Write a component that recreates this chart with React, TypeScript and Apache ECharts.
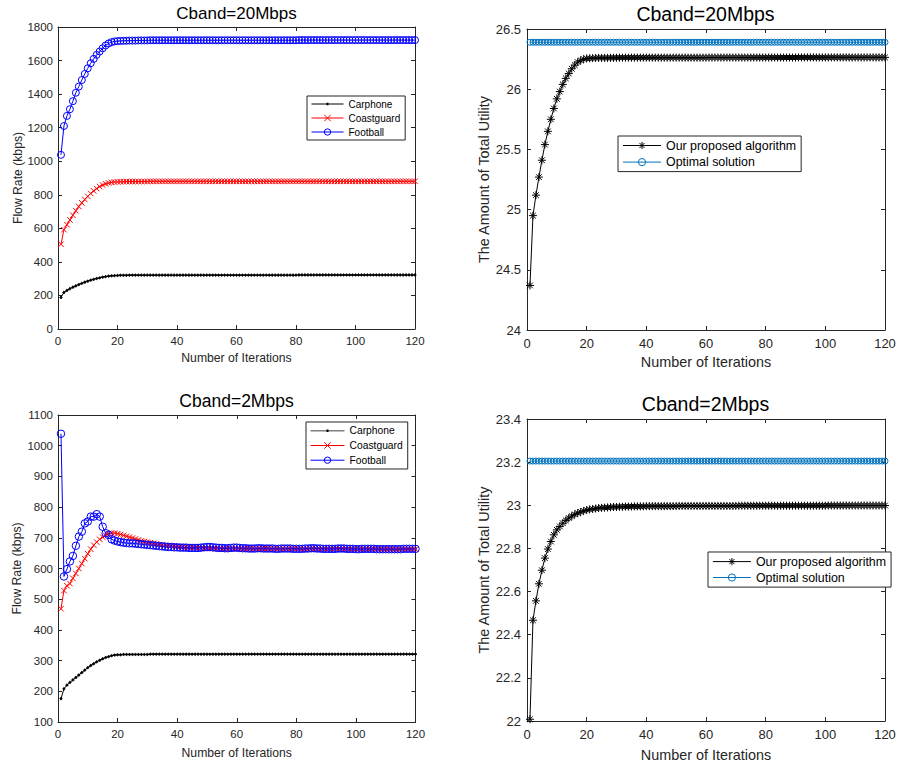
import React, { useEffect, useRef } from "react";
import * as echarts from "echarts";

// ---------- data (iterations 1..120) ----------
const xTicks = [0, 20, 40, 60, 80, 100, 120];
const seriesNamesRate = ["Carphone", "Coastguard", "Football"];
const seriesNamesUtil = ["Our proposed algorithm", "Optimal solution"];
const panelTitles = ["Cband=20Mbps", "Cband=20Mbps", "Cband=2Mbps", "Cband=2Mbps"];

const c20Carphone = [
  188, 218, 230, 240, 249, 257, 265, 272, 279, 285,
  291, 296, 301, 305, 309, 312, 315, 317, 318, 319,
  320, 320, 320, 321, 321, 321, 321, 321, 321, 321,
  321, 321, 321, 321, 321, 321, 321, 321, 321, 321,
  321, 321, 321, 321, 321, 321, 321, 321, 321, 321,
  321, 321, 321, 321, 321, 321, 321, 321, 321, 321,
  321, 321, 321, 321, 321, 321, 321, 321, 321, 321,
  321, 321, 321, 321, 321, 321, 321, 321, 321, 321,
  322, 322, 322, 322, 322, 322, 322, 322, 322, 322,
  322, 322, 322, 322, 322, 322, 322, 322, 322, 322,
  322, 322, 322, 322, 322, 322, 322, 322, 322, 322,
  322, 322, 322, 322, 322, 322, 322, 322, 322, 322,
];
const c20Coastguard = [
  505, 592, 622, 650, 678, 705, 730, 752, 772, 791,
  808, 823, 837, 849, 858, 865, 870, 874, 876, 877,
  878, 878, 879, 879, 879, 879, 879, 879, 879, 879,
  880, 880, 880, 880, 880, 880, 880, 880, 880, 880,
  880, 880, 880, 880, 880, 880, 880, 880, 880, 880,
  880, 880, 880, 880, 880, 880, 880, 880, 880, 880,
  880, 880, 880, 880, 880, 880, 880, 880, 880, 880,
  880, 880, 880, 880, 880, 880, 880, 880, 880, 880,
  880, 880, 880, 880, 880, 880, 880, 880, 880, 880,
  880, 880, 880, 880, 880, 880, 880, 880, 880, 880,
  880, 880, 880, 880, 880, 880, 880, 880, 880, 880,
  880, 880, 880, 880, 880, 880, 880, 880, 880, 880,
];
const c20Football = [
  1038, 1210, 1270, 1310, 1358, 1408, 1445, 1484, 1520, 1554,
  1584, 1610, 1634, 1654, 1673, 1690, 1702, 1710, 1714, 1716,
  1717, 1718, 1718, 1719, 1719, 1719, 1720, 1720, 1720, 1720,
  1721, 1721, 1721, 1721, 1721, 1721, 1721, 1721, 1721, 1721,
  1721, 1721, 1721, 1721, 1721, 1721, 1721, 1721, 1721, 1721,
  1721, 1721, 1721, 1721, 1721, 1721, 1721, 1721, 1721, 1721,
  1721, 1721, 1721, 1721, 1721, 1721, 1721, 1721, 1721, 1721,
  1721, 1721, 1721, 1721, 1721, 1721, 1721, 1721, 1721, 1721,
  1722, 1722, 1722, 1722, 1722, 1722, 1722, 1722, 1722, 1722,
  1722, 1722, 1722, 1722, 1722, 1722, 1722, 1722, 1722, 1722,
  1722, 1722, 1722, 1722, 1722, 1722, 1722, 1722, 1722, 1722,
  1722, 1722, 1722, 1722, 1722, 1722, 1722, 1722, 1722, 1722,
];
const u20Proposed = [
  24.37, 24.95, 25.12, 25.27, 25.41, 25.54, 25.65, 25.75, 25.84, 25.92,
  25.98, 26.04, 26.09, 26.13, 26.17, 26.2, 26.225, 26.24, 26.25, 26.255,
  26.257, 26.258, 26.259, 26.26, 26.26, 26.26, 26.26, 26.261, 26.261, 26.261,
  26.262, 26.262, 26.262, 26.262, 26.262, 26.262, 26.262, 26.262, 26.262, 26.262,
  26.262, 26.262, 26.262, 26.262, 26.262, 26.262, 26.262, 26.262, 26.262, 26.262,
  26.262, 26.262, 26.262, 26.262, 26.262, 26.262, 26.262, 26.262, 26.262, 26.262,
  26.263, 26.263, 26.263, 26.263, 26.263, 26.263, 26.263, 26.263, 26.263, 26.263,
  26.263, 26.263, 26.263, 26.263, 26.263, 26.263, 26.263, 26.263, 26.263, 26.263,
  26.263, 26.263, 26.263, 26.263, 26.263, 26.263, 26.263, 26.263, 26.263, 26.263,
  26.264, 26.264, 26.264, 26.264, 26.264, 26.264, 26.264, 26.264, 26.264, 26.264,
  26.264, 26.264, 26.264, 26.264, 26.264, 26.264, 26.264, 26.264, 26.264, 26.264,
  26.264, 26.264, 26.264, 26.264, 26.264, 26.264, 26.264, 26.264, 26.264, 26.264,
];
const u20Optimal = [
  26.39, 26.39, 26.39, 26.39, 26.39, 26.39, 26.39, 26.39, 26.39, 26.39,
  26.39, 26.39, 26.39, 26.39, 26.39, 26.39, 26.39, 26.39, 26.39, 26.39,
  26.39, 26.39, 26.39, 26.39, 26.39, 26.39, 26.39, 26.39, 26.39, 26.39,
  26.39, 26.39, 26.39, 26.39, 26.39, 26.39, 26.39, 26.39, 26.39, 26.39,
  26.39, 26.39, 26.39, 26.39, 26.39, 26.39, 26.39, 26.39, 26.39, 26.39,
  26.39, 26.39, 26.39, 26.39, 26.39, 26.39, 26.39, 26.39, 26.39, 26.39,
  26.39, 26.39, 26.39, 26.39, 26.39, 26.39, 26.39, 26.39, 26.39, 26.39,
  26.39, 26.39, 26.39, 26.39, 26.39, 26.39, 26.39, 26.39, 26.39, 26.39,
  26.39, 26.39, 26.39, 26.39, 26.39, 26.39, 26.39, 26.39, 26.39, 26.39,
  26.39, 26.39, 26.39, 26.39, 26.39, 26.39, 26.39, 26.39, 26.39, 26.39,
  26.39, 26.39, 26.39, 26.39, 26.39, 26.39, 26.39, 26.39, 26.39, 26.39,
  26.39, 26.39, 26.39, 26.39, 26.39, 26.39, 26.39, 26.39, 26.39, 26.39,
];
const c2Carphone = [
  176, 208, 220, 229, 237, 245, 253, 261, 269, 277,
  284, 290, 296, 301, 306, 310, 313, 316, 318, 319,
  319, 320, 320, 320, 320, 320, 320, 320, 320, 320,
  321, 321, 321, 321, 321, 321, 321, 321, 321, 321,
  321, 321, 321, 321, 321, 321, 321, 321, 321, 321,
  321, 321, 321, 321, 321, 321, 321, 321, 321, 321,
  321, 321, 321, 321, 321, 321, 321, 321, 321, 321,
  321, 321, 321, 321, 321, 321, 321, 321, 321, 321,
  321, 321, 321, 321, 321, 321, 321, 321, 321, 321,
  321, 321, 321, 321, 321, 321, 321, 321, 321, 321,
  321, 321, 321, 321, 321, 321, 321, 321, 321, 321,
  321, 321, 321, 321, 321, 321, 321, 321, 321, 321,
];
const c2Coastguard = [
  469, 528, 544, 551, 568, 584, 600, 616, 632, 648,
  663, 676, 686, 695, 702, 708, 713, 716, 715, 713,
  711, 708, 705, 702, 699, 696, 693, 690, 688, 686,
  684, 682, 680, 678, 677, 676, 675, 674, 673, 672,
  671, 670, 669, 669, 668, 668, 667, 667, 666, 666,
  665, 665, 665, 664, 664, 665, 665, 664, 664, 664,
  664, 664, 665, 665, 664, 664, 664, 664, 665, 665,
  664, 664, 664, 664, 663, 663, 664, 664, 664, 664,
  664, 663, 663, 663, 664, 664, 663, 663, 663, 663,
  663, 663, 664, 664, 663, 663, 663, 663, 663, 663,
  663, 663, 663, 663, 663, 664, 663, 663, 663, 663,
  663, 663, 663, 663, 663, 663, 663, 663, 663, 663,
];
const c2Football = [
  1039, 574, 598, 623, 641, 674, 704, 720, 747, 753,
  769, 769, 777, 769, 736, 715, 709, 695, 691, 688,
  686, 684, 683, 682, 682, 681, 680, 679, 678, 677,
  676, 675, 674, 673, 672, 671, 670, 670, 669, 669,
  668, 668, 668, 667, 667, 667, 667, 668, 669, 670,
  670, 669, 668, 667, 667, 666, 666, 667, 668, 668,
  667, 666, 666, 665, 665, 665, 666, 666, 665, 665,
  665, 665, 664, 664, 665, 665, 665, 665, 664, 664,
  664, 664, 665, 665, 666, 666, 665, 665, 664, 664,
  664, 664, 664, 665, 665, 665, 664, 664, 664, 663,
  663, 664, 664, 664, 664, 664, 663, 663, 663, 663,
  663, 663, 663, 663, 663, 664, 664, 664, 664, 664,
];
const u2Proposed = [
  22.008, 22.467, 22.557, 22.636, 22.699, 22.755, 22.797, 22.832, 22.863, 22.886,
  22.902, 22.917, 22.93, 22.941, 22.95, 22.958, 22.964, 22.969, 22.974, 22.978,
  22.981, 22.983, 22.985, 22.987, 22.988, 22.989, 22.99, 22.991, 22.992, 22.992,
  22.993, 22.993, 22.994, 22.994, 22.994, 22.995, 22.995, 22.995, 22.995, 22.996,
  22.996, 22.996, 22.996, 22.996, 22.996, 22.996, 22.996, 22.996, 22.996, 22.996,
  22.997, 22.997, 22.997, 22.997, 22.997, 22.997, 22.997, 22.997, 22.997, 22.997,
  22.997, 22.997, 22.997, 22.997, 22.997, 22.997, 22.997, 22.997, 22.997, 22.997,
  22.998, 22.998, 22.998, 22.998, 22.998, 22.998, 22.998, 22.998, 22.998, 22.998,
  22.998, 22.998, 22.998, 22.998, 22.998, 22.998, 22.998, 22.998, 22.998, 22.998,
  22.998, 22.998, 22.998, 22.998, 22.998, 22.998, 22.998, 22.998, 22.998, 22.998,
  22.999, 22.999, 22.999, 22.999, 22.999, 22.999, 22.999, 22.999, 22.999, 22.999,
  22.999, 22.999, 22.999, 22.999, 22.999, 22.999, 22.999, 22.999, 22.999, 22.999,
];
const u2Optimal = [
  23.205, 23.205, 23.205, 23.205, 23.205, 23.205, 23.205, 23.205, 23.205, 23.205,
  23.205, 23.205, 23.205, 23.205, 23.205, 23.205, 23.205, 23.205, 23.205, 23.205,
  23.205, 23.205, 23.205, 23.205, 23.205, 23.205, 23.205, 23.205, 23.205, 23.205,
  23.205, 23.205, 23.205, 23.205, 23.205, 23.205, 23.205, 23.205, 23.205, 23.205,
  23.205, 23.205, 23.205, 23.205, 23.205, 23.205, 23.205, 23.205, 23.205, 23.205,
  23.205, 23.205, 23.205, 23.205, 23.205, 23.205, 23.205, 23.205, 23.205, 23.205,
  23.205, 23.205, 23.205, 23.205, 23.205, 23.205, 23.205, 23.205, 23.205, 23.205,
  23.205, 23.205, 23.205, 23.205, 23.205, 23.205, 23.205, 23.205, 23.205, 23.205,
  23.205, 23.205, 23.205, 23.205, 23.205, 23.205, 23.205, 23.205, 23.205, 23.205,
  23.205, 23.205, 23.205, 23.205, 23.205, 23.205, 23.205, 23.205, 23.205, 23.205,
  23.205, 23.205, 23.205, 23.205, 23.205, 23.205, 23.205, 23.205, 23.205, 23.205,
  23.205, 23.205, 23.205, 23.205, 23.205, 23.205, 23.205, 23.205, 23.205, 23.205,
];

// ---------- styling ----------
const FONT = "'Liberation Sans', Arial, Helvetica, sans-serif";
const AX = "#262626";
const CIRCLE = "path://M0,5A5,5,0,1,1,10,5A5,5,0,1,1,0,5Z";
const CROSS = "path://M0,0L10,10M10,0L0,10";
const STAR = "path://M5,0L5,10M0,5L10,5M1.46,1.46L8.54,8.54M8.54,1.46L1.46,8.54";
const dotIcon = (w: number) =>
  `path://M0,4.6L${w},4.6L${w},5.4L0,5.4Z M${w / 2 - 1},3.8L${w / 2 + 1},3.8L${w / 2 + 1},6.2L${w / 2 - 1},6.2Z`;

const pairs = (vals: number[]) => vals.map((v, i) => [i + 1, v]);
const fmt = (v: number) => String(+Number(v).toFixed(3));

type Panel = {
  grid: { left: number; top: number; width: number; height: number };
  yMin: number; yMax: number; yInterval: number; yName: string;
  tick: number; nameSize: number; xLabelMargin: number; xNameGap: number; yNameGap: number; yLabelMargin: number;
};

const panels: Panel[] = [
  { grid: { left: 58, top: 27, width: 357, height: 302 }, yMin: 0, yMax: 1800, yInterval: 200, yName: "Flow Rate (kbps)",
    tick: 11.5, nameSize: 12.2, xLabelMargin: 6, xNameGap: 23, yNameGap: 34, yLabelMargin: 5 },
  { grid: { left: 527, top: 29, width: 358, height: 301 }, yMin: 24, yMax: 26.5, yInterval: 0.5, yName: "The Amount of Total Utility",
    tick: 13, nameSize: 14.4, xLabelMargin: 7, xNameGap: 25, yNameGap: 36, yLabelMargin: 6 },
  { grid: { left: 58, top: 415, width: 357.5, height: 307 }, yMin: 100, yMax: 1100, yInterval: 100, yName: "Flow Rate (kbps)",
    tick: 11.5, nameSize: 12.2, xLabelMargin: 6, xNameGap: 24.5, yNameGap: 35, yLabelMargin: 5 },
  { grid: { left: 527, top: 419, width: 358, height: 302 }, yMin: 22, yMax: 23.4, yInterval: 0.2, yName: "The Amount of Total Utility",
    tick: 13, nameSize: 14.4, xLabelMargin: 7, xNameGap: 27, yNameGap: 36, yLabelMargin: 6 },
];

function buildOption() {
  const grid: any[] = [];
  const xAxis: any[] = [];
  const yAxis: any[] = [];
  panels.forEach((p, gi) => {
    grid.push({ ...p.grid, containLabel: false, show: false });
    const common = {
      type: "value", gridIndex: gi, splitLine: { show: false },
      axisLine: { show: true, onZero: false, lineStyle: { color: AX, width: 1 } },
      axisTick: { show: true, inside: true, length: 4, lineStyle: { color: AX, width: 1 } },
    };
    xAxis.push({
      ...common, position: "bottom", min: xTicks[0], max: xTicks[xTicks.length - 1], interval: 20,
      axisLabel: { show: true, color: AX, fontSize: p.tick, fontFamily: FONT, margin: p.xLabelMargin, formatter: fmt },
      name: "Number of Iterations", nameLocation: "middle", nameGap: p.xNameGap,
      nameTextStyle: { color: AX, fontSize: p.nameSize, fontFamily: FONT },
    });
    xAxis.push({ ...common, position: "top", min: 0, max: 120, interval: 20, axisLabel: { show: false } });
    yAxis.push({
      ...common, position: "left", min: p.yMin, max: p.yMax, interval: p.yInterval,
      axisLabel: { show: true, color: AX, fontSize: p.tick, fontFamily: FONT, margin: p.yLabelMargin, formatter: fmt },
      name: p.yName, nameLocation: "middle", nameGap: p.yNameGap,
      nameTextStyle: { color: AX, fontSize: p.nameSize, fontFamily: FONT },
    });
    yAxis.push({ ...common, position: "right", min: p.yMin, max: p.yMax, interval: p.yInterval, axisLabel: { show: false } });
  });

  const line = (name: string, gi: number, data: number[], color: string, symbol: string, size: number, fill: string) => ({
    type: "line", name, xAxisIndex: gi * 2, yAxisIndex: gi * 2, data: pairs(data),
    symbol, symbolSize: size, showSymbol: true, showAllSymbol: true, silent: true,
    lineStyle: { color, width: 1 },
    itemStyle: { color: fill, borderColor: color, borderWidth: 1 },
    emphasis: { disabled: true },
  });

  const series = [
    line("Carphone", 0, c20Carphone, "#000000", "circle", 2.2, "#000000"),
    line("Coastguard", 0, c20Coastguard, "#ff0000", CROSS, 5.5, "#ff0000"),
    line("Football", 0, c20Football, "#0000ff", CIRCLE, 7, "rgba(0,0,0,0)"),
    line("Our proposed algorithm", 1, u20Proposed, "#000000", STAR, 8, "#000000"),
    line("Optimal solution", 1, u20Optimal, "#0072bd", CIRCLE, 6, "rgba(0,0,0,0)"),
    line("Carphone", 2, c2Carphone, "#000000", "circle", 2.2, "#000000"),
    line("Coastguard", 2, c2Coastguard, "#ff0000", CROSS, 5.5, "#ff0000"),
    line("Football", 2, c2Football, "#0000ff", CIRCLE, 7.5, "rgba(0,0,0,0)"),
    line("Our proposed algorithm", 3, u2Proposed, "#000000", STAR, 8, "#000000"),
    line("Optimal solution", 3, u2Optimal, "#0072bd", CIRCLE, 6, "rgba(0,0,0,0)"),
  ];

  const titleCenters = [
    { x: 236.5, top: 5, size: 17 },
    { x: 705.5, top: 4, size: 19.5 },
    { x: 236.5, top: 392, size: 17.5 },
    { x: 705.5, top: 394, size: 19.5 },
  ];
  const title = panelTitles.map((t, i) => ({
    text: t, left: titleCenters[i].x, top: titleCenters[i].top, textAlign: "center", padding: 0,
    textStyle: { fontSize: titleCenters[i].size, fontWeight: "normal", color: "#000", fontFamily: FONT },
  }));

  const legendBase = {
    orient: "vertical", selectedMode: false, borderColor: AX, borderWidth: 1, borderRadius: 0,
    backgroundColor: "#ffffff", align: "left",
    lineStyle: { width: 1 },
    itemStyle: { borderWidth: 1 },
  };
  const dotItem = (w: number) => ({ name: seriesNamesRate[0], icon: dotIcon(w), itemStyle: { color: "#000", borderWidth: 0 } });
  const legend = [
    { ...legendBase, left: 307, top: 96, padding: [3, 5, 3, 4], itemWidth: 32, itemHeight: 8, itemGap: 4,
      textStyle: { fontSize: 10, color: "#000", fontFamily: FONT },
      data: [dotItem(32), seriesNamesRate[1], seriesNamesRate[2]] },
    { ...legendBase, left: 618, top: 136, padding: [3.5, 5, 3.5, 4.5], itemWidth: 38, itemHeight: 9, itemGap: 4.6,
      textStyle: { fontSize: 12.4, color: "#000", fontFamily: FONT },
      data: [seriesNamesUtil[0], seriesNamesUtil[1]] },
    { ...legendBase, left: 306, top: 422, padding: [3.8, 5, 3.8, 4], itemWidth: 34, itemHeight: 8, itemGap: 4.7,
      textStyle: { fontSize: 10.3, color: "#000", fontFamily: FONT },
      data: [dotItem(34), seriesNamesRate[1], seriesNamesRate[2]] },
    { ...legendBase, left: 708, top: 552, padding: [3.6, 5, 3.6, 4.4], itemWidth: 38, itemHeight: 9, itemGap: 3.9,
      textStyle: { fontSize: 12.4, color: "#000", fontFamily: FONT },
      data: [seriesNamesUtil[0], seriesNamesUtil[1]] },
  ];

  return {
    animation: false,
    backgroundColor: "#ffffff",
    textStyle: { fontFamily: FONT },
    title, legend, grid, xAxis, yAxis, series,
  };
}

export default function App() {
  const ref = useRef<HTMLDivElement>(null);
  useEffect(() => {
    document.body.style.margin = "0";
    if (!ref.current) return;
    const chart = echarts.init(ref.current, undefined, { renderer: "svg" });
    chart.setOption(buildOption() as any);
    return () => chart.dispose();
  }, []);
  return <div ref={ref} style={{ width: 899, height: 768 }} />;
}
